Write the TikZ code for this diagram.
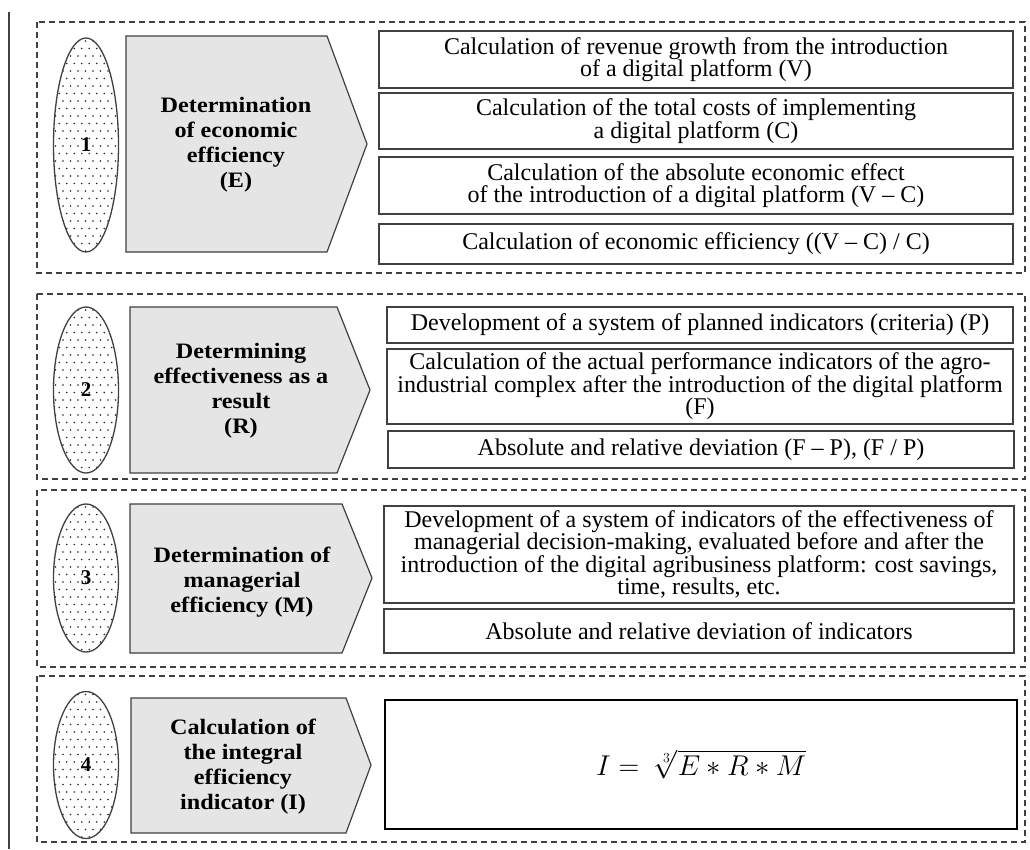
\documentclass[tikz,border=0pt]{standalone}
\usepackage{fontspec}
\setmainfont{Liberation Serif}
\newfontfamily\labelfont{Liberation Serif}[FakeStretch=1.1]
\usetikzlibrary{shapes.geometric}
\definecolor{edge}{gray}{0.25}
\definecolor{pentfill}{gray}{0.9}
\definecolor{dotc}{gray}{0.15}
\tikzset{
  grp/.style={draw=edge, line width=1.1pt, dash pattern=on 6pt off 4pt},
  ell/.style={ellipse, draw=edge, line width=1.3pt, fill=white, inner sep=0pt,
    minimum width=65pt, font=\fontsize{21}{22}\selectfont\bfseries,
    path picture={
      \foreach \r in {0,...,30}{
        \foreach \c in {0,...,9}{
          \fill[dotc] ([shift={({2+\c*7.5+mod(\r,2)*3.75},{3+\r*7.5})}]path picture bounding box.north west) circle (0.8pt);
        }
      }
    }},
  pent/.style={draw=edge, line width=1.2pt, fill=pentfill, line join=miter},
  plabel/.style={align=center, inner sep=0pt, font=\labelfont\fontsize{22}{25}\selectfont\bfseries},
  rbox/.style={draw=edge, line width=1.5pt, inner sep=0pt, align=center,
    font=\fontsize{24}{22.5}\selectfont},
}
\begin{document}
\begin{tikzpicture}[x=1pt,y=-1pt]
\useasboundingbox (0,0) rectangle (1030,849);
% left rule
\coordinate (lt) at (9,12);
\coordinate (lb) at (9,849);
\draw[edge, line width=1.5pt] (lt) -- (lb);

% group frames
\draw[grp] (37,22) rectangle (1025,273);
\draw[grp] (37,294) rectangle (1025,479);
\draw[grp] (37,490) rectangle (1025,667);
\draw[grp] (37,676) rectangle (1025,842);

% ellipses
\node[ell, minimum height=214pt] (e1) at (86,145) {1};
\node[ell, minimum height=166pt] (e2) at (86,390) {2};
\node[ell, minimum height=148pt] (e3) at (86,578) {3};
\node[ell, minimum height=147pt] (e4) at (86,765) {4};

% pentagons
\draw[pent] (126,36) -- (327,36) -- (367,144) -- (327,252) -- (126,252) -- cycle;
\draw[pent] (130,307) -- (337,307) -- (370,390) -- (337,473) -- (130,473) -- cycle;
\draw[pent] (130,504) -- (342,504) -- (372,578) -- (342,653) -- (130,653) -- cycle;
\draw[pent] (131,698) -- (346,698) -- (371,765) -- (346,833) -- (131,833) -- cycle;

\node[plabel] (p1) at (236,145) {Determination\\of economic\\efficiency\\(E)};
\node[plabel] (p2) at (241,391) {Determining\\effectiveness as a\\result\\(R)};
\node[plabel] (p3) at (242,582) {Determination of\\managerial\\efficiency (M)};
\node[plabel] (p4) at (243,767) {Calculation of\\the integral\\efficiency\\indicator (I)};

% group 1 boxes
\node[rbox, minimum width=634pt, minimum height=57pt] (b1a) at (696,59.5)
  {Calculation of revenue growth from the introduction\\of a digital platform (V)};
\node[rbox, minimum width=634pt, minimum height=56pt] (b1b) at (696,121)
  {Calculation of the total costs of implementing\\a digital platform (C)};
\node[rbox, minimum width=634pt, minimum height=57pt] (b1c) at (696,185.5)
  {Calculation of the absolute economic effect\\of the introduction of a digital platform (V -- C)};
\node[rbox, minimum width=634pt, minimum height=40pt] (b1d) at (696,244)
  {Calculation of economic efficiency ((V -- C) / C)};

% group 2 boxes
\node[rbox, minimum width=626pt, minimum height=36pt] (b2a) at (700,325)
  {Development of a system of planned indicators (criteria) (P)};
\node[rbox, minimum width=626pt, minimum height=75pt] (b2b) at (700,386.5)
  {Calculation of the actual performance indicators of the agro-\\industrial complex after the introduction of the digital platform\\(F)};
\node[rbox, minimum width=626pt, minimum height=37pt] (b2c) at (701,449.5)
  {Absolute and relative deviation (F -- P), (F / P)};

% group 3 boxes
\node[rbox, minimum width=630pt, minimum height=97pt] (b3a) at (699,554.5)
  {Development of a system of indicators of the effectiveness of\\managerial decision-making, evaluated before and after the\\introduction of the digital agribusiness platform: cost savings,\\time, results, etc.};
\node[rbox, minimum width=630pt, minimum height=44pt] (b3b) at (699,631)
  {Absolute and relative deviation of indicators};

% group 4 box
\node[rbox, draw=black, minimum width=632pt, minimum height=129pt] (b4) at (701,764.5)
  {\scalebox{1.15}{$I = \;\sqrt[3]{E \ast R \ast M}$}};
\end{tikzpicture}
\end{document}
